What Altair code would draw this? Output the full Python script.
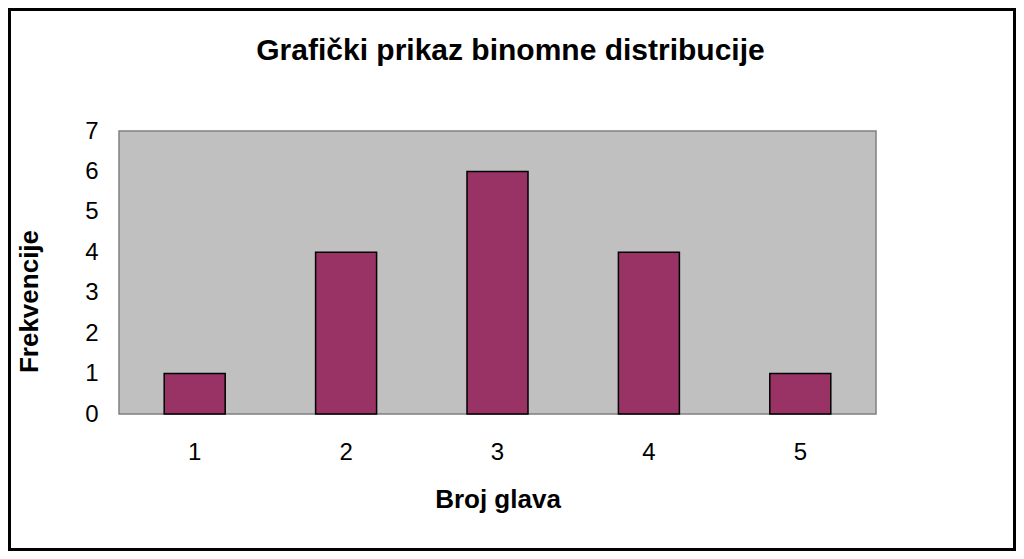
import altair as alt
import pandas as pd

categories = ["1", "2", "3", "4", "5"]
frequencies = [1, 4, 6, 4, 1]

title_text = "Grafički prikaz binomne distribucije"
x_title = "Broj glava"
y_title = "Frekvencije"

df = pd.DataFrame({"glava": categories, "freq": frequencies})
one = pd.DataFrame({"a": [0]})

W, H = 757, 283
PL, PT = 111, 123
TOTAL_W, TOTAL_H = 1008, 543
B = 3
FONT = "Liberation Sans"

frame = alt.Chart(one).mark_rect(fill="white", stroke=None).encode(
    x=alt.value(B - PL), x2=alt.value(TOTAL_W - B - PL),
    y=alt.value(B - PT), y2=alt.value(TOTAL_H - B - PT)
)
plotbg = alt.Chart(one).mark_rect(fill="#C0C0C0", stroke="#808080", strokeWidth=1.5).encode(
    x=alt.value(0), x2=alt.value(W), y=alt.value(0), y2=alt.value(H)
)
bars = alt.Chart(df).mark_bar(
    size=61, color="#993366", stroke="black", strokeWidth=1.5
).encode(
    x=alt.X("glava:O", sort=categories, title=x_title,
            scale=alt.Scale(paddingInner=0, paddingOuter=0),
            axis=alt.Axis(labelAngle=0, labelPadding=26, titleY=93,
                          titleBaseline="alphabetic", zindex=1)),
    y=alt.Y("freq:Q", title=y_title,
            scale=alt.Scale(domain=[0, 7], nice=False),
            axis=alt.Axis(values=[0, 1, 2, 3, 4, 5, 6, 7], labelPadding=21,
                          titleAngle=270, titleX=-82, titleY=170,
                          titleAlign="center", titleBaseline="alphabetic",
                          zindex=1)),
)

chart = alt.layer(frame, plotbg, bars).properties(
    width=W, height=H,
    title=alt.TitleParams(title_text, font=FONT, fontSize=30, fontWeight="bold",
                          color="black", anchor="middle", frame="group",
                          offset=-55, dx=13, zindex=1),
    background="black",
    padding={"left": PL, "top": PT, "right": TOTAL_W - PL - W,
             "bottom": TOTAL_H - PT - H},
    autosize=alt.AutoSizeParams(type="none"),
).configure_view(stroke=None, fill=None).configure_axis(
    domain=False, ticks=False, grid=False,
    labelFont=FONT, labelFontSize=24, labelColor="black",
    titleFont=FONT, titleFontSize=26, titleFontWeight="bold", titleColor="black",
)

chart.save("out.html", embed_options={"renderer": "svg", "actions": False})
